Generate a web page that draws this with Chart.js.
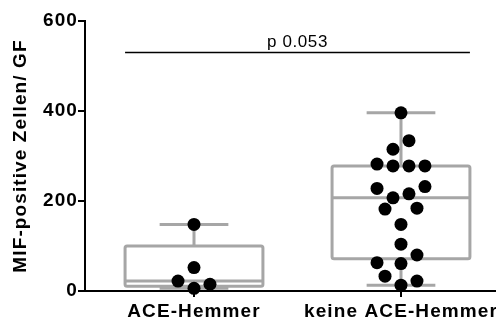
<!DOCTYPE html>
<html>
<head>
<meta charset="utf-8">
<script src="https://cdn.jsdelivr.net/npm/chart.js@4/dist/chart.umd.min.js"></script>
<style>
  html, body { margin: 0; padding: 0; background: #fff; }
  canvas { display: block; }
</style>
</head>
<body>
<canvas id="chart" width="496" height="321"></canvas>
<script>
// Groups on the x axis
const categories = ['ACE-Hemmer', 'keine ACE-Hemmer'];

// MIF-positive cells per field of view, one value per patient
const aceValues = [148, 52, 22, 15, 6];
const keineValues = [396, 334, 315, 282, 278, 278, 278, 232, 228, 216, 207,
                     182, 184, 148, 104, 80, 63, 61, 33, 22, 13];

// column slot of each dot inside its group (dots with similar values sit side by side)
const aceSlots = [0, 0, -2, 2, 0];
const keineSlots = [0, 1, -1, -3, -1, 1, 3, 3, -3, 1, -1, -2, 2, 0, 0, 2, -3, 0, -2, 2, 0];

const yTicks = [0, 200, 400, 600];
const yTitle = 'MIF-positive Zellen/ GF';

// comparison bar between the two groups
const pLabel = 'p 0.053';
const pLevel = 530;

const FONT = '"Liberation Sans", Arial, Helvetica, sans-serif';
const SLOT_W = 0.0386;   // horizontal step between dot columns (category units)
const BOX_HALF = 0.333;  // half width of a box
const CAP_HALF = 0.166;  // half width of whisker caps

// percentile with (n+1)p positioning
function percentile(values, p) {
  const s = [...values].sort((a, b) => a - b);
  const pos = (s.length + 1) * p - 1;
  const lo = Math.max(0, Math.floor(pos)), hi = Math.min(s.length - 1, Math.ceil(pos));
  return s[lo] + (s[hi] - s[lo]) * (pos - lo);
}
// min, Q1, median, Q3, max
function summary(values) {
  return [Math.min(...values), percentile(values, 0.25), percentile(values, 0.5),
          percentile(values, 0.75), Math.max(...values)];
}
const groups = [aceValues, keineValues];
const boxStats = groups.map(summary);

function dotPoints(group, values, slots) {
  return values.map((v, i) => ({ x: group + slots[i] * SLOT_W, y: v }));
}

const spacingPlugin = {
  id: 'spacing',
  beforeUpdate(c) { c.ctx.letterSpacing = '1.1px'; },
  beforeDraw(c) { c.ctx.letterSpacing = '1.1px'; }
};

// grey min-to-max box plots behind the dots
const boxPlugin = {
  id: 'boxes',
  beforeDatasetsDraw(chart) {
    const { ctx, scales: { x, y } } = chart;
    ctx.save();
    ctx.strokeStyle = '#a6a6a6';
    ctx.lineWidth = 3;
    ctx.lineJoin = 'round';
    boxStats.forEach((s, i) => {
      const g = i + 1;
      const [mn, q1, med, q3, mx] = s.map(v => y.getPixelForValue(v));
      const l = x.getPixelForValue(g - BOX_HALF), r = x.getPixelForValue(g + BOX_HALF);
      const cl = x.getPixelForValue(g - CAP_HALF), cr = x.getPixelForValue(g + CAP_HALF);
      const cx = x.getPixelForValue(g);
      ctx.beginPath();
      ctx.moveTo(cx, q3); ctx.lineTo(cx, mx);
      ctx.moveTo(cl, mx); ctx.lineTo(cr, mx);
      ctx.moveTo(cx, q1); ctx.lineTo(cx, mn);
      ctx.moveTo(cl, mn); ctx.lineTo(cr, mn);
      ctx.stroke();
      ctx.beginPath();
      ctx.roundRect(l, q3, r - l, q1 - q3, 2);
      ctx.stroke();
      ctx.beginPath();
      ctx.moveTo(l, med); ctx.lineTo(r, med);
      ctx.stroke();
    });
    ctx.restore();
  }
};

// significance bar with its p value
const pValuePlugin = {
  id: 'pValue',
  afterDatasetsDraw(chart) {
    const { ctx, scales: { x, y } } = chart;
    const yl = y.getPixelForValue(pLevel);
    const x1 = x.getPixelForValue(1 - BOX_HALF), x2 = x.getPixelForValue(2 + BOX_HALF);
    ctx.save();
    ctx.strokeStyle = '#000';
    ctx.lineWidth = 1.5;
    ctx.beginPath(); ctx.moveTo(x1, yl); ctx.lineTo(x2, yl); ctx.stroke();
    ctx.letterSpacing = '0.6px';
    ctx.font = '17px ' + FONT;
    ctx.fillStyle = '#000';
    ctx.textAlign = 'center';
    ctx.textBaseline = 'alphabetic';
    ctx.fillText(pLabel, (x1 + x2) / 2, yl - 5.5);
    ctx.restore();
  }
};

Chart.defaults.font.family = FONT;
Chart.defaults.color = '#000';

const tickFont = { family: FONT, size: 19, weight: 'bold' };
const axisGrid = { drawOnChartArea: false, drawTicks: true, tickLength: 7, color: '#000', lineWidth: 2 };
const axisBorder = { display: true, color: '#000', width: 2 };

const dotStyle = {
  backgroundColor: '#000', borderColor: '#000', borderWidth: 0,
  pointRadius: 6.5, pointHoverRadius: 6.5, clip: false
};

new Chart(document.getElementById('chart'), {
  type: 'scatter',
  data: {
    datasets: [
      Object.assign({ label: categories[0], data: dotPoints(1, aceValues, aceSlots) }, dotStyle),
      Object.assign({ label: categories[1], data: dotPoints(2, keineValues, keineSlots) }, dotStyle)
    ]
  },
  options: {
    responsive: false,
    animation: false,
    devicePixelRatio: 1,
    layout: { autoPadding: false, padding: { top: 21, right: 0, bottom: 0, left: 0 } },
    plugins: { legend: { display: false }, tooltip: { enabled: false } },
    scales: {
      x: {
        type: 'linear', min: 0.4734, max: 2.459,
        afterBuildTicks: s => { s.ticks = categories.map((c, i) => ({ value: i + 1 })); },
        afterFit: s => { s.height = 30; s.paddingLeft = 0; s.paddingRight = 0; },
        ticks: { autoSkip: false, maxRotation: 0, padding: 3, color: '#000', font: tickFont,
                 callback: v => categories[v - 1] },
        grid: Object.assign({}, axisGrid, { tickLength: 6 }),
        border: axisBorder
      },
      y: {
        min: 0, max: 600,
        afterBuildTicks: s => { s.ticks = yTicks.map(v => ({ value: v })); },
        afterFit: s => { s.width = 85; s.paddingTop = 0; s.paddingBottom = 0; },
        ticks: { padding: 0, color: '#000', font: tickFont },
        title: { display: true, text: yTitle, color: '#000', font: tickFont,
                 padding: { top: 9, bottom: 0 } },
        grid: axisGrid,
        border: axisBorder
      }
    }
  },
  plugins: [spacingPlugin, boxPlugin, pValuePlugin]
});
</script>
</body>
</html>
